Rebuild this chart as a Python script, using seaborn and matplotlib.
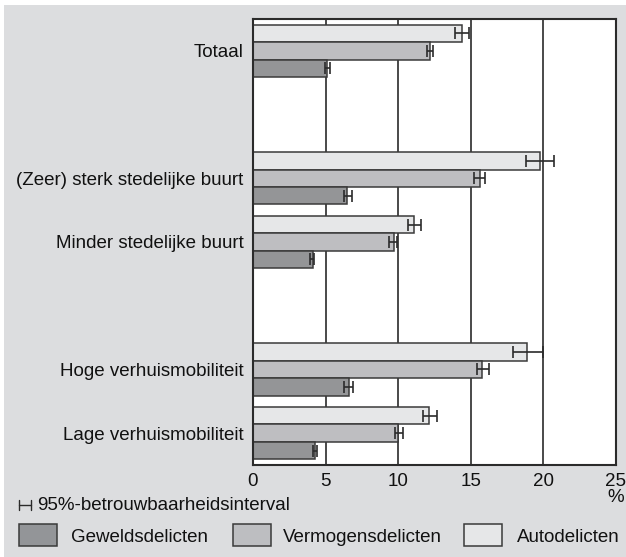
import pandas as pd
import matplotlib.pyplot as plt
import seaborn as sns
from matplotlib.patches import Rectangle
from matplotlib.lines import Line2D

# data (percentages)
categories = ["Totaal", "(Zeer) sterk stedelijke buurt", "Minder stedelijke buurt",
              "Hoge verhuismobiliteit", "Lage verhuismobiliteit"]
# order on the axis, with blank slots between the blocks
order = ["Totaal", " ", "(Zeer) sterk stedelijke buurt", "Minder stedelijke buurt",
         "  ", "Hoge verhuismobiliteit", "Lage verhuismobiliteit"]

geweld = [5.1, 6.5, 4.1, 6.6, 4.25]
geweld_lo = [4.98, 6.3, 3.9, 6.3, 4.1]
geweld_hi = [5.3, 6.8, 4.2, 6.9, 4.4]

vermogen = [12.2, 15.6, 9.7, 15.8, 10.0]
vermogen_lo = [12.0, 15.2, 9.4, 15.4, 9.8]
vermogen_hi = [12.4, 16.0, 9.9, 16.25, 10.3]

auto = [14.4, 19.8, 11.1, 18.9, 12.1]
auto_lo = [13.9, 18.8, 10.65, 17.9, 11.7]
auto_hi = [14.9, 20.7, 11.6, 19.95, 12.65]

hue_order = ["Autodelicten", "Vermogensdelicten", "Geweldsdelicten"]
kleuren = {"Geweldsdelicten": "#939598", "Vermogensdelicten": "#bdbec1", "Autodelicten": "#e6e7e8"}

rows = []
for soort, vals, lo, hi in [("Geweldsdelicten", geweld, geweld_lo, geweld_hi),
                            ("Vermogensdelicten", vermogen, vermogen_lo, vermogen_hi),
                            ("Autodelicten", auto, auto_lo, auto_hi)]:
    for c, v, l, h in zip(categories, vals, lo, hi):
        rows.append({"cat": c, "soort": soort, "pct": v, "lo": l, "hi": h})
df = pd.DataFrame(rows)

sns.set_theme(style="white")
plt.rcParams["font.family"] = ["Liberation Sans", "DejaVu Sans"]
FS = 13.5

W, H = 626, 557
fig = plt.figure(figsize=(W / 100, H / 100), dpi=100)
fig.patch.set_facecolor("white")
fig.patches.append(Rectangle((4 / W, 0), 1, 552 / H, transform=fig.transFigure,
                             facecolor="#dcdddf", edgecolor="none", zorder=-10))

ax = fig.add_axes([253 / W, 1 - 465 / H, (616 - 253) / W, (465 - 19) / H])
ax.set_facecolor("white")

sns.barplot(data=df, y="cat", x="pct", hue="soort", order=order, hue_order=hue_order,
            palette=kleuren, orient="h", width=0.82, errorbar=None,
            edgecolor="#3a3a3a", linewidth=1.1, legend=False, ax=ax)

# 95% intervals on each bar
for soort, cont in zip(hue_order, ax.containers):
    sub = df[df["soort"] == soort].set_index("cat")
    for bar in cont:
        yc = bar.get_y() + bar.get_height() / 2
        cat = order[int(round(yc))]
        if cat not in sub.index:
            continue
        v = sub.loc[cat, "pct"]
        ax.errorbar(v, yc, xerr=[[v - sub.loc[cat, "lo"]], [sub.loc[cat, "hi"] - v]],
                    fmt="none", ecolor="#2b2b2b", elinewidth=1.2, capsize=4, capthick=1.2,
                    zorder=5)

ax.set_xlim(0, 25)
ax.set_ylim(len(order) - 0.5, -0.5)
ax.set_xticks([0, 5, 10, 15, 20, 25])
ax.set_xlabel("")
ax.set_ylabel("")
ax.xaxis.grid(True, color="#3a3a3a", linewidth=1.3)
ax.set_axisbelow(True)
ax.tick_params(axis="both", length=0, labelsize=FS, colors="#111111")
ax.tick_params(axis="y", pad=7)
ax.tick_params(axis="x", pad=6)
for s in ax.spines.values():
    s.set_color("#2b2b2b")
    s.set_linewidth(1.5)
ax.text(1.0, -0.073, "%", transform=ax.transAxes, ha="center", va="center",
        fontsize=FS, color="#111111")

# legend at the bottom
def fx(px):
    return px / W

def fy(py):
    return 1 - py / H

fig.add_artist(Line2D([fx(19), fx(31)], [fy(505), fy(505)], color="#2b2b2b", lw=1))
for xx in (19, 31):
    fig.add_artist(Line2D([fx(xx), fx(xx)], [fy(500), fy(510)], color="#2b2b2b", lw=1))
fig.text(fx(37), fy(505), "95%-betrouwbaarheidsinterval", ha="left", va="center",
         fontsize=FS, color="#111111")

for x0, txt_x, soort in [(19, 71, "Geweldsdelicten"), (233, 283, "Vermogensdelicten"),
                         (464, 517, "Autodelicten")]:
    fig.patches.append(Rectangle((fx(x0), fy(546)), fx(38), 22 / H, transform=fig.transFigure,
                                 facecolor=kleuren[soort], edgecolor="#3a3a3a", lw=1.1))
    fig.text(fx(txt_x), fy(537), soort, ha="left", va="center", fontsize=FS, color="#111111")

fig.savefig("out.png", dpi=100)
